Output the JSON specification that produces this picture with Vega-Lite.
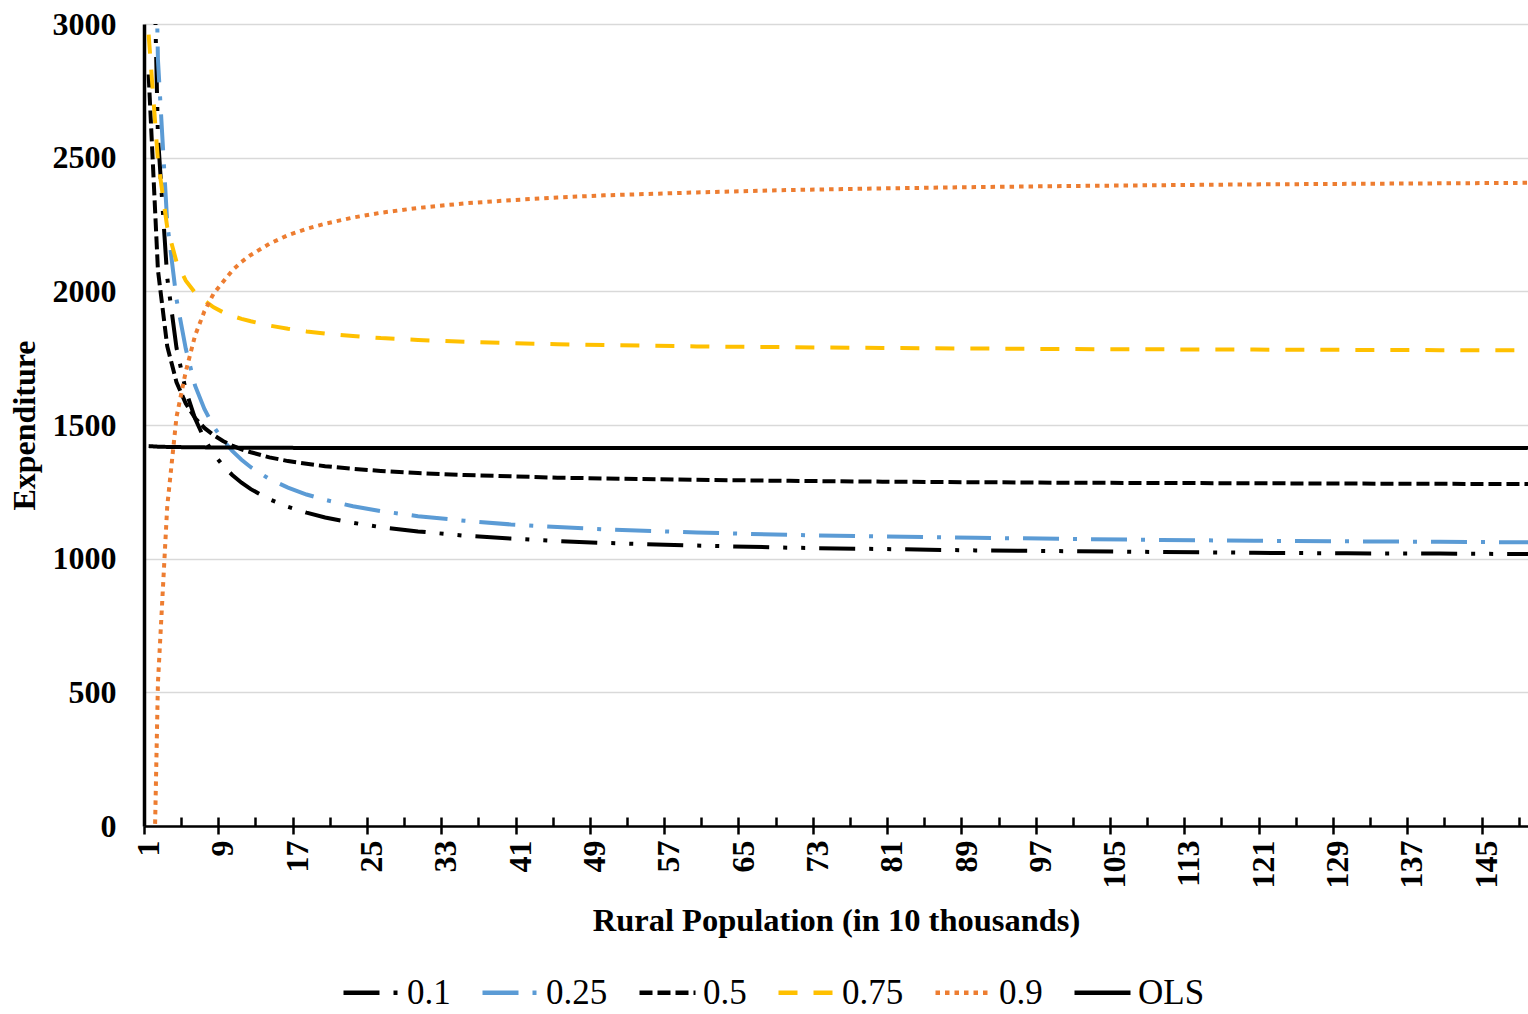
{
  "$schema": "https://vega.github.io/schema/vega-lite/v6.json",
  "width": 1384,
  "height": 802,
  "autosize": {"type": "none"},
  "padding": {"left": 144, "top": 24, "right": 0, "bottom": 188},
  "background": "white",
  "config": {"view": {"stroke": null}, "font": "Liberation Serif"},
  "datasets": {
    "curves": [
      {"x":1,"s":"0.1","y":4163},{"x":2,"s":"0.1","y":2580},{"x":3,"s":"0.1","y":2052},{"x":4,"s":"0.1","y":1788},{"x":5,"s":"0.1","y":1629},{"x":6,"s":"0.1","y":1524},{"x":7,"s":"0.1","y":1448},{"x":8,"s":"0.1","y":1392},{"x":9,"s":"0.1","y":1348},{"x":10,"s":"0.1","y":1313},{"x":11,"s":"0.1","y":1284},{"x":12,"s":"0.1","y":1260},{"x":14,"s":"0.1","y":1222},{"x":16,"s":"0.1","y":1194},{"x":18,"s":"0.1","y":1172},{"x":20,"s":"0.1","y":1154},{"x":23,"s":"0.1","y":1134},{"x":26,"s":"0.1","y":1118},{"x":30,"s":"0.1","y":1102},{"x":35,"s":"0.1","y":1086},{"x":40,"s":"0.1","y":1075},{"x":45,"s":"0.1","y":1066},{"x":50,"s":"0.1","y":1059},{"x":60,"s":"0.1","y":1049},{"x":70,"s":"0.1","y":1041},{"x":80,"s":"0.1","y":1036},{"x":90,"s":"0.1","y":1031},{"x":100,"s":"0.1","y":1028},{"x":110,"s":"0.1","y":1025},{"x":120,"s":"0.1","y":1022},{"x":130,"s":"0.1","y":1020},{"x":140,"s":"0.1","y":1019},{"x":150,"s":"0.1","y":1017},
      {"x":1,"s":"0.25","y":4696},{"x":2,"s":"0.25","y":2867},{"x":3,"s":"0.25","y":2257},{"x":4,"s":"0.25","y":1970},{"x":5,"s":"0.25","y":1785},{"x":6,"s":"0.25","y":1647},{"x":7,"s":"0.25","y":1560},{"x":8,"s":"0.25","y":1494},{"x":9,"s":"0.25","y":1444},{"x":10,"s":"0.25","y":1403},{"x":11,"s":"0.25","y":1370},{"x":12,"s":"0.25","y":1342},{"x":14,"s":"0.25","y":1298},{"x":16,"s":"0.25","y":1266},{"x":18,"s":"0.25","y":1240},{"x":20,"s":"0.25","y":1220},{"x":23,"s":"0.25","y":1196},{"x":26,"s":"0.25","y":1178},{"x":30,"s":"0.25","y":1159},{"x":35,"s":"0.25","y":1142},{"x":40,"s":"0.25","y":1128},{"x":45,"s":"0.25","y":1118},{"x":50,"s":"0.25","y":1110},{"x":60,"s":"0.25","y":1098},{"x":70,"s":"0.25","y":1089},{"x":80,"s":"0.25","y":1083},{"x":90,"s":"0.25","y":1078},{"x":100,"s":"0.25","y":1074},{"x":110,"s":"0.25","y":1070},{"x":120,"s":"0.25","y":1067},{"x":130,"s":"0.25","y":1065},{"x":140,"s":"0.25","y":1063},{"x":150,"s":"0.25","y":1061},
      {"x":1,"s":"0.5","y":2811},{"x":2,"s":"0.5","y":2080},{"x":3,"s":"0.5","y":1795},{"x":4,"s":"0.5","y":1660},{"x":5,"s":"0.5","y":1580},{"x":6,"s":"0.5","y":1526},{"x":7,"s":"0.5","y":1489},{"x":8,"s":"0.5","y":1462},{"x":9,"s":"0.5","y":1440},{"x":10,"s":"0.5","y":1423},{"x":11,"s":"0.5","y":1409},{"x":12,"s":"0.5","y":1398},{"x":14,"s":"0.5","y":1379},{"x":16,"s":"0.5","y":1365},{"x":18,"s":"0.5","y":1355},{"x":20,"s":"0.5","y":1346},{"x":23,"s":"0.5","y":1336},{"x":26,"s":"0.5","y":1328},{"x":30,"s":"0.5","y":1320},{"x":35,"s":"0.5","y":1313},{"x":40,"s":"0.5","y":1308},{"x":45,"s":"0.5","y":1303},{"x":50,"s":"0.5","y":1300},{"x":60,"s":"0.5","y":1295},{"x":70,"s":"0.5","y":1291},{"x":80,"s":"0.5","y":1288},{"x":90,"s":"0.5","y":1286},{"x":100,"s":"0.5","y":1284},{"x":110,"s":"0.5","y":1283},{"x":120,"s":"0.5","y":1282},{"x":130,"s":"0.5","y":1281},{"x":140,"s":"0.5","y":1280},{"x":150,"s":"0.5","y":1279},
      {"x":1,"s":"0.75","y":2960},{"x":2,"s":"0.75","y":2490},{"x":3,"s":"0.75","y":2240},{"x":4,"s":"0.75","y":2110},{"x":5,"s":"0.75","y":2040},{"x":6,"s":"0.75","y":1995},{"x":7,"s":"0.75","y":1965},{"x":8,"s":"0.75","y":1940},{"x":9,"s":"0.75","y":1922},{"x":10,"s":"0.75","y":1908},{"x":11,"s":"0.75","y":1897},{"x":12,"s":"0.75","y":1888},{"x":14,"s":"0.75","y":1872},{"x":16,"s":"0.75","y":1860},{"x":18,"s":"0.75","y":1850},{"x":20,"s":"0.75","y":1842},{"x":23,"s":"0.75","y":1833},{"x":26,"s":"0.75","y":1825},{"x":30,"s":"0.75","y":1818},{"x":35,"s":"0.75","y":1811},{"x":40,"s":"0.75","y":1806},{"x":45,"s":"0.75","y":1802},{"x":50,"s":"0.75","y":1799},{"x":60,"s":"0.75","y":1794},{"x":70,"s":"0.75","y":1791},{"x":80,"s":"0.75","y":1788},{"x":90,"s":"0.75","y":1786},{"x":100,"s":"0.75","y":1784},{"x":110,"s":"0.75","y":1783},{"x":120,"s":"0.75","y":1782},{"x":130,"s":"0.75","y":1781},{"x":140,"s":"0.75","y":1780},{"x":150,"s":"0.75","y":1780},
      {"x":1,"s":"0.9","y":-1200},{"x":2,"s":"0.9","y":535},{"x":3,"s":"0.9","y":1195},{"x":4,"s":"0.9","y":1530},{"x":5,"s":"0.9","y":1700},{"x":6,"s":"0.9","y":1835},{"x":7,"s":"0.9","y":1925},{"x":8,"s":"0.9","y":1992},{"x":9,"s":"0.9","y":2035},{"x":10,"s":"0.9","y":2078},{"x":11,"s":"0.9","y":2110},{"x":12,"s":"0.9","y":2136},{"x":14,"s":"0.9","y":2178},{"x":16,"s":"0.9","y":2210},{"x":18,"s":"0.9","y":2234},{"x":20,"s":"0.9","y":2253},{"x":23,"s":"0.9","y":2276},{"x":26,"s":"0.9","y":2294},{"x":30,"s":"0.9","y":2312},{"x":35,"s":"0.9","y":2329},{"x":40,"s":"0.9","y":2341},{"x":45,"s":"0.9","y":2351},{"x":50,"s":"0.9","y":2359},{"x":60,"s":"0.9","y":2370},{"x":70,"s":"0.9","y":2379},{"x":80,"s":"0.9","y":2385},{"x":90,"s":"0.9","y":2390},{"x":100,"s":"0.9","y":2394},{"x":110,"s":"0.9","y":2397},{"x":120,"s":"0.9","y":2400},{"x":130,"s":"0.9","y":2402},{"x":140,"s":"0.9","y":2404},{"x":150,"s":"0.9","y":2406},
      {"x":1,"s":"OLS","y":1421},{"x":2,"s":"OLS","y":1419},{"x":3,"s":"OLS","y":1418},{"x":5,"s":"OLS","y":1417},{"x":8,"s":"OLS","y":1416},{"x":12,"s":"OLS","y":1415},{"x":20,"s":"OLS","y":1414},{"x":50,"s":"OLS","y":1414},{"x":100,"s":"OLS","y":1414},{"x":150,"s":"OLS","y":1414}
    ]
  },
  "layer": [
    {
      "data": {"name": "curves"},
      "mark": {"type": "line", "clip": true, "strokeWidth": 4},
      "encoding": {
        "x": {
          "field": "x", "type": "quantitative",
          "scale": {"domain": [0.5, 149.5], "nice": false, "zero": false},
          "axis": {
            "orient": "bottom",
            "values": [0.5, 8.5, 16.5, 24.5, 32.5, 40.5, 48.5, 56.5, 64.5, 72.5, 80.5, 88.5, 96.5, 104.5, 112.5, 120.5, 128.5, 136.5, 144.5],
            "labelExpr": "format(datum.value + 0.5, 'd')",
            "labelAngle": -90,
            "labelOffset": 4.65,
            "labelFlush": false,
            "labelOverlap": false,
            "labelFont": "Liberation Serif",
            "labelFontWeight": "bold",
            "labelFontSize": 32,
            "labelColor": "black",
            "labelPadding": 6,
            "tickSize": 8,
            "tickWidth": 2.5,
            "tickColor": "black",
            "domainColor": "black",
            "domainWidth": 2.5,
            "grid": false,
            "title": "Rural Population (in 10 thousands)",
            "titleFont": "Liberation Serif",
            "titleFontSize": 32.5,
            "titleFontWeight": "bold",
            "titleColor": "black",
            "titlePadding": 16
          }
        },
        "y": {
          "field": "y", "type": "quantitative",
          "scale": {"domain": [0, 3000], "nice": false, "zero": false},
          "axis": {
            "values": [0, 500, 1000, 1500, 2000, 2500, 3000],
            "format": "d",
            "title": "Expenditure",
            "titleFont": "Liberation Serif",
            "titleFontSize": 32,
            "titleFontWeight": "bold",
            "titleColor": "black",
            "titlePadding": 11,
            "labelFont": "Liberation Serif",
            "labelFontSize": 32,
            "labelFontWeight": "bold",
            "labelColor": "black",
            "labelPadding": 28,
            "labelFlush": false,
            "ticks": false,
            "domainColor": "black",
            "domainWidth": 3.5,
            "grid": true,
            "gridColor": "#D9D9D9",
            "gridWidth": 1.5
          }
        },
        "color": {
          "field": "s", "type": "nominal",
          "scale": {"domain": ["0.1", "0.25", "0.5", "0.75", "0.9", "OLS"], "range": ["#000000", "#5B9BD5", "#000000", "#FFC000", "#ED7D31", "#000000"]},
          "legend": {"title": null, "orient": "none", "legendX": 197, "legendY": 938, "direction": "horizontal", "symbolType": "stroke", "symbolSize": 3136, "symbolStrokeWidth": 4.5, "labelFont": "Liberation Serif", "labelFontSize": 35, "labelColor": "black", "labelOffset": 5, "columnPadding": 22, "labelLimit": 0}
        },
        "strokeDash": {
          "field": "s", "type": "nominal",
          "scale": {"domain": ["0.1", "0.25", "0.5", "0.75", "0.9", "OLS"], "range": [[36, 14, 4, 14, 4, 14], [36, 14, 4, 14], [13, 5], [19, 16], [4.5, 5], [1, 0]]},
          "legend": {"title": null, "orient": "none", "legendX": 197, "legendY": 938, "direction": "horizontal", "symbolType": "stroke", "symbolSize": 3136, "symbolStrokeWidth": 4.5, "labelFont": "Liberation Serif", "labelFontSize": 35, "labelColor": "black", "labelOffset": 5, "columnPadding": 22, "labelLimit": 0}
        }
      }
    },
    {
      "data": {"values": [{"x": 0.5}]},
      "mark": {"type": "rule", "opacity": 0},
      "encoding": {
        "x": {
          "field": "x", "type": "quantitative",
          "scale": {"domain": [0.5, 149.5], "nice": false, "zero": false},
          "axis": {
            "orient": "bottom",
            "offset": -9,
            "values": [0.5, 4.5, 8.5, 12.5, 16.5, 20.5, 24.5, 28.5, 32.5, 36.5, 40.5, 44.5, 48.5, 52.5, 56.5, 60.5, 64.5, 68.5, 72.5, 76.5, 80.5, 84.5, 88.5, 92.5, 96.5, 100.5, 104.5, 108.5, 112.5, 116.5, 120.5, 124.5, 128.5, 132.5, 136.5, 140.5, 144.5, 148.5],
            "labels": false,
            "domain": false,
            "grid": false,
            "title": null,
            "tickSize": 9,
            "tickWidth": 2.5,
            "tickColor": "black"
          }
        }
      }
    }
  ],
  "resolve": {"axis": {"x": "independent"}}
}
